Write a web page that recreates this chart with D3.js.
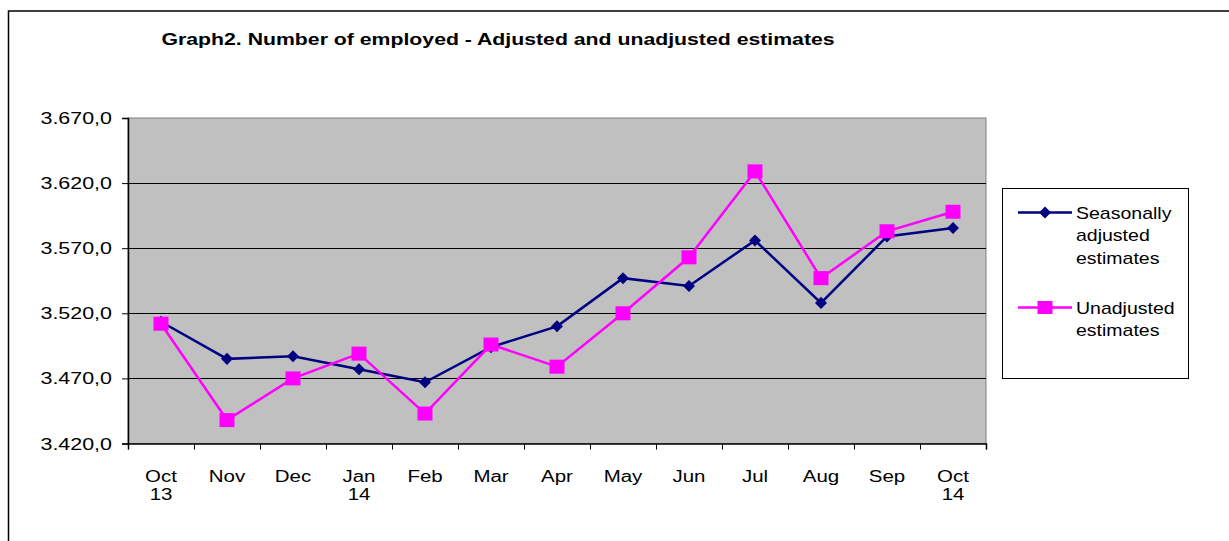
<!DOCTYPE html>
<html>
<head>
<meta charset="utf-8">
<script src="https://cdn.jsdelivr.net/npm/d3@7"></script>
<style>
  html, body { margin: 0; padding: 0; background: #fff; }
  svg { display: block; }
  text { font-family: "Liberation Sans", Arial, sans-serif; fill: #000; }
</style>
</head>
<body>
<svg id="chart" width="1229" height="541"></svg>
<script>
// Employment series, Oct 2013 – Oct 2014 (thousands)
const months = ["Oct", "Nov", "Dec", "Jan", "Feb", "Mar", "Apr", "May", "Jun", "Jul", "Aug", "Sep", "Oct"];
const years = ["13", "", "", "14", "", "", "", "", "", "", "", "", "14"];
const adjusted = [3513.5, 3485, 3487, 3477, 3467, 3494, 3510, 3547, 3541, 3576, 3528, 3579, 3585.5];
const unadjusted = [3512, 3438, 3470, 3489, 3443, 3496, 3479, 3520, 3563, 3629, 3547, 3583, 3598];
const yTicks = [3420, 3470, 3520, 3570, 3620, 3670];
const seriesNames = [["Seasonally", "adjusted", "estimates"], ["Unadjusted", "estimates"]];
const titleText = "Graph2. Number of employed - Adjusted and unadjusted estimates";

const navy = "#000080", magenta = "#FF00FF";
const SX = 1.28; // horizontal text stretch

const svg = d3.select("#chart");
const plot = { left: 128, right: 986, top: 118, bottom: 443.5 };

const x = d3.scaleBand().domain(d3.range(months.length)).range([plot.left, plot.right]).padding(0);
const xEdge = d3.scaleLinear().domain([0, months.length]).range([plot.left, plot.right]);
const y = d3.scaleLinear().domain([3420, 3670]).range([plot.bottom, plot.top]);
const fmt = d3.formatLocale({ decimal: ",", thousands: ".", grouping: [3], currency: ["", ""] }).format(",.1f");

// stretched text helper
function label(g, str, px, py, opts = {}) {
  return g.append("text")
    .attr("transform", `translate(${px},${py}) scale(${opts.sx || SX},1)`)
    .attr("text-anchor", opts.anchor || "start")
    .attr("font-size", opts.size || 16)
    .attr("font-weight", opts.weight || "normal")
    .text(str);
}

// outer frame
svg.append("rect").attr("x", 8.5).attr("y", 11).attr("width", 1240).attr("height", 560)
  .attr("fill", "#fff").attr("stroke", "#000").attr("stroke-width", 1.5);

// title
label(svg, titleText, 161.5, 45, { size: 17, weight: "bold", sx: 1.25 });

// plot background
svg.append("rect")
  .attr("x", plot.left).attr("y", plot.top)
  .attr("width", plot.right - plot.left).attr("height", plot.bottom - plot.top)
  .attr("fill", "#C0C0C0").attr("stroke", "#808080").attr("stroke-width", 1);

// gridlines
svg.append("g").selectAll("line").data(yTicks.slice(1, -1)).join("line")
  .attr("x1", plot.left).attr("x2", plot.right)
  .attr("y1", d => Math.round(y(d)) + 0.5).attr("y2", d => Math.round(y(d)) + 0.5)
  .attr("stroke", "#000").attr("stroke-width", 1);

// y axis
const yAxis = svg.append("g").attr("transform", `translate(${plot.left},0)`)
  .call(d3.axisLeft(y).tickValues(yTicks).tickSize(6).tickFormat(""));
yAxis.selectAll("path,line").attr("stroke", "#000");
yAxis.select(".domain").attr("stroke-width", 1.5);
yTicks.forEach(t => label(svg, fmt(t), 112, y(t) + 6, { anchor: "end", sx: 1.34 }));

// x axis
const xAxis = svg.append("g").attr("transform", `translate(0,${plot.bottom})`)
  .call(d3.axisBottom(xEdge).tickValues(d3.range(months.length + 1)).tickSize(6).tickFormat(""));
xAxis.selectAll("path,line").attr("stroke", "#000");
xAxis.select(".domain").attr("stroke-width", 1.5);
months.forEach((m, i) => {
  const cx = x(i) + x.bandwidth() / 2;
  label(svg, m, cx, 482, { anchor: "middle" });
  if (years[i]) label(svg, years[i], cx, 500, { anchor: "middle" });
});

// series
const line = d3.line().x((d, i) => x(i) + x.bandwidth() / 2).y(d => y(d));
const diamond = d3.symbol().type(d3.symbolSquare).size(8.5 * 8.5);

function drawSeries(values, color, marker) {
  const g = svg.append("g");
  g.append("path").datum(values).attr("d", line)
    .attr("fill", "none").attr("stroke", color).attr("stroke-width", 2.5).attr("stroke-linejoin", "miter");
  if (marker === "diamond") {
    g.selectAll("path.m").data(values).join("path").attr("class", "m")
      .attr("d", diamond)
      .attr("transform", (d, i) => `translate(${x(i) + x.bandwidth() / 2},${y(d)}) rotate(45)`)
      .attr("fill", color);
  } else {
    g.selectAll("rect.m").data(values).join("rect").attr("class", "m")
      .attr("x", (d, i) => x(i) + x.bandwidth() / 2 - 7.5).attr("y", d => y(d) - 7)
      .attr("width", 15).attr("height", 14).attr("fill", color);
  }
}
drawSeries(adjusted, navy, "diamond");
drawSeries(unadjusted, magenta, "square");

// legend
const lg = svg.append("g");
lg.append("rect").attr("x", 1002.5).attr("y", 188.5).attr("width", 186).attr("height", 190)
  .attr("fill", "#fff").attr("stroke", "#000").attr("stroke-width", 1);
const legendRows = [{ y: 212.5, color: navy, marker: "diamond" }, { y: 307.5, color: magenta, marker: "square" }];
legendRows.forEach((r, k) => {
  lg.append("line").attr("x1", 1018).attr("x2", 1072).attr("y1", r.y).attr("y2", r.y)
    .attr("stroke", r.color).attr("stroke-width", 2.5);
  if (r.marker === "diamond") {
    lg.append("path").attr("d", diamond).attr("transform", `translate(1045,${r.y}) rotate(45)`).attr("fill", r.color);
  } else {
    lg.append("rect").attr("x", 1045 - 7.5).attr("y", r.y - 6.5).attr("width", 15).attr("height", 13).attr("fill", r.color);
  }
  seriesNames[k].forEach((s, j) => label(lg, s, 1076, r.y + 6 + j * 22.5, { sx: 1.22 }));
});
</script>
</body>
</html>
